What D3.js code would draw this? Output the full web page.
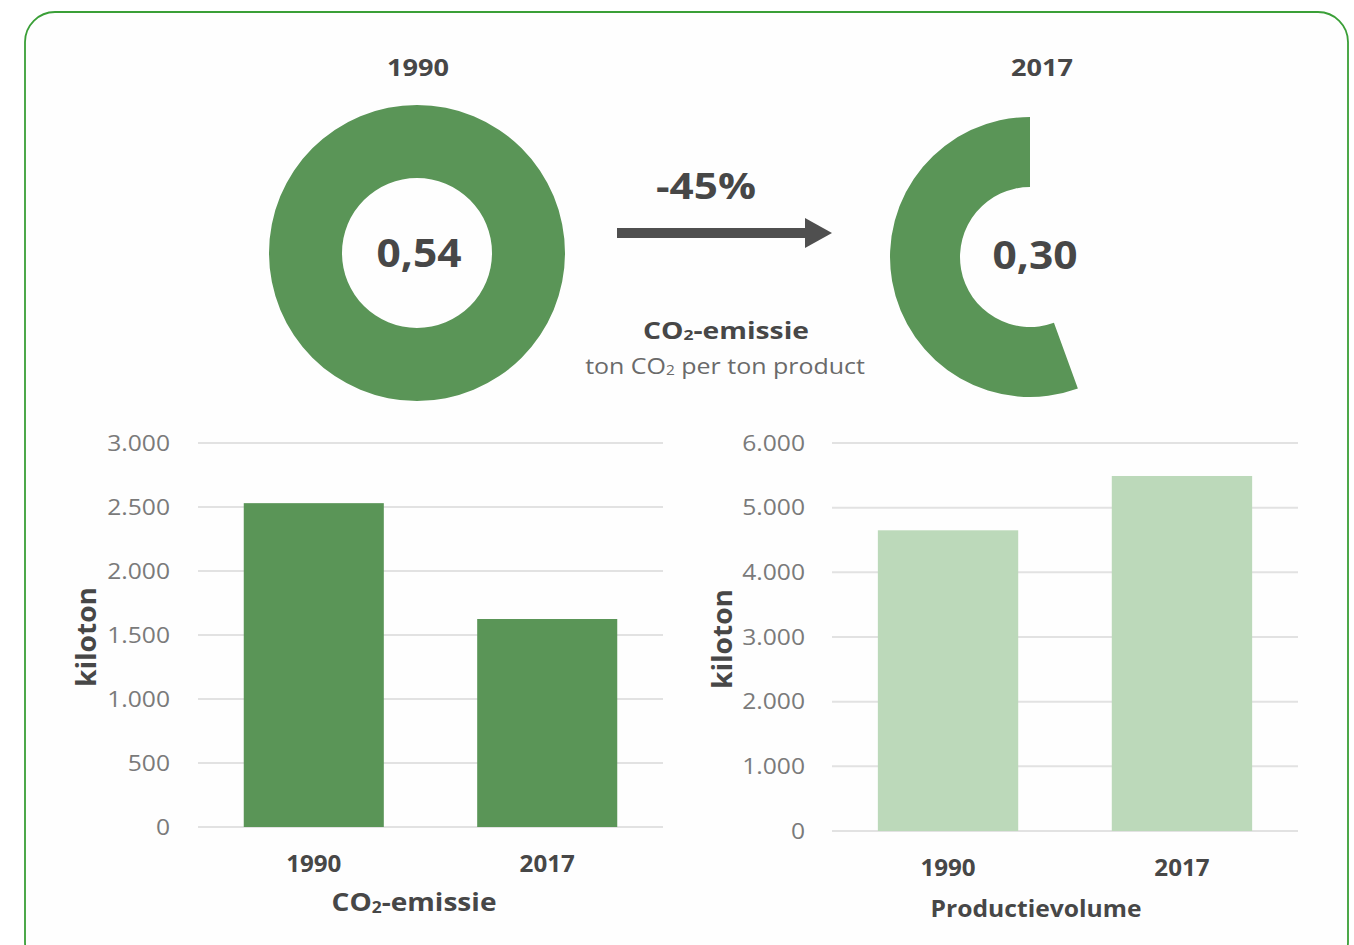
<!DOCTYPE html>
<html>
<head>
<meta charset="utf-8">
<script src="https://cdn.jsdelivr.net/npm/d3@7"></script>
<style>
  html, body { margin: 0; padding: 0; background: #ffffff; }
  svg { display: block; font-family: "Open Sans", "Noto Sans", sans-serif; }
</style>
</head>
<body>
<svg id="chart" width="1354" height="945"></svg>
<script>
// CO2 intensity (ton CO2 per ton product)
const years = ["1990", "2017"];
const intensity = [0.54, 0.30];
const changeLabel = "-45%";

// Absolute emissions and production volume (kiloton)
const emissions = [2530, 1625];
const production = [4650, 5490];
const emissionTicks = [0, 500, 1000, 1500, 2000, 2500, 3000];
const productionTicks = [0, 1000, 2000, 3000, 4000, 5000, 6000];

const nl = d3.formatLocale({ decimal: ",", thousands: ".", grouping: [3], currency: ["€ ", ""] });
const fmtInt = nl.format(",d");
const fmtDec = nl.format(".2f");

const svg = d3.select("#chart");
const dark = "#474747";
const axisGrey = "#7a7a7a";
const greenDark = "#5a9557";
const greenLight = "#bcd9ba";

// Rounded frame
svg.append("rect")
  .attr("x", 25).attr("y", 12)
  .attr("width", 1323).attr("height", 960)
  .attr("rx", 30).attr("ry", 30)
  .attr("fill", "#fefefe")
  .attr("stroke", "#3a9f37").attr("stroke-width", 1.8);

// Wide lettering: text is drawn at the origin and stretched horizontally to a set width
function label(parent, o) {
  const t = parent.append("text")
    .attr("x", 0).attr("y", 0)
    .attr("text-anchor", o.anchor || "middle")
    .attr("font-size", o.size)
    .attr("font-weight", o.weight || 400)
    .attr("fill", o.fill || dark);
  if (o.co2) {
    t.append("tspan").text(o.co2[0]);
    t.append("tspan").attr("font-size", o.size * 0.62).attr("dy", o.size * 0.06).text("2");
    t.append("tspan").attr("dy", -o.size * 0.06).text(o.co2[1]);
  } else {
    t.text(o.text);
  }
  const w = t.node().getComputedTextLength();
  const sx = o.width ? o.width / w : 1;
  t.attr("transform", `translate(${o.x},${o.y}) rotate(${o.rotate || 0}) scale(${sx},1)`);
  return t;
}

// ---- Intensity rings ----
const maxIntensity = d3.max(intensity);
const rings = [
  { cx: 417, cy: 253, r0: 75, r1: 148, tx: 419, ty: 267, lx: 418, size: 40 },
  { cx: 1030, cy: 257, r0: 70, r1: 140, tx: 1035, ty: 269, lx: 1042, size: 39 }
];
intensity.forEach((v, i) => {
  const R = rings[i];
  const share = v / maxIntensity;
  const arc = d3.arc()
    .innerRadius(R.r0).outerRadius(R.r1)
    .startAngle(2 * Math.PI * (1 - share)).endAngle(2 * Math.PI);
  svg.append("path")
    .attr("transform", `translate(${R.cx},${R.cy})`)
    .attr("d", arc()).attr("fill", greenDark);
  label(svg, { x: R.tx, y: R.ty, text: fmtDec(v), size: R.size, weight: 700, width: 85 });
  label(svg, { x: R.lx, y: 75.5, text: years[i], size: 24, weight: 700, width: 62 });
});

// Arrow between the rings
svg.append("rect").attr("x", 617).attr("y", 228).attr("width", 192).attr("height", 10).attr("fill", "#4f4f4f");
svg.append("path").attr("d", "M805,218 L832,233 L805,248 Z").attr("fill", "#4f4f4f");
label(svg, { x: 706, y: 199, text: changeLabel, size: 36, weight: 700, width: 100 });

label(svg, { x: 726, y: 338.5, co2: ["CO", "-emissie"], size: 24, weight: 700, width: 166 });
label(svg, { x: 725, y: 374, co2: ["ton CO", " per ton product"], size: 22, fill: "#6a6a6a", width: 280 });

// ---- Bar charts ----
function barChart(opts) {
  const x = d3.scaleBand().domain(years).range([opts.x0, opts.x1]).paddingInner(0.4).paddingOuter(0.196);
  const y = d3.scaleLinear().domain([0, d3.max(opts.ticks)]).range([opts.yBase, opts.yTop]);
  const g = svg.append("g");

  const yAxis = d3.axisLeft(y).tickValues(opts.ticks).tickFormat(fmtInt).tickSize(0).tickPadding(0);
  const ax = g.append("g").attr("transform", `translate(${opts.labelX},0)`).call(yAxis);
  ax.select(".domain").remove();
  ax.selectAll("text")
    .attr("font-size", 22).attr("fill", axisGrey).attr("font-family", "Open Sans, sans-serif")
    .attr("x", 0).attr("transform", "scale(1.12,1)");

  g.append("g").selectAll("line").data(opts.ticks).join("line")
    .attr("x1", opts.x0).attr("x2", opts.x1)
    .attr("y1", d => y(d)).attr("y2", d => y(d))
    .attr("stroke", "#e2e2e2").attr("stroke-width", 2);

  g.append("g").selectAll("rect").data(opts.values).join("rect")
    .attr("x", (d, i) => x(years[i]))
    .attr("width", x.bandwidth())
    .attr("y", d => y(d))
    .attr("height", d => y(0) - y(d))
    .attr("fill", opts.color);

  const xAxis = d3.axisBottom(x).tickSize(0).tickPadding(0);
  const xa = g.append("g").attr("transform", `translate(0,${opts.yBase + 44.5})`).call(xAxis);
  xa.select(".domain").remove();
  xa.selectAll("text")
    .attr("font-size", 23).attr("font-weight", 700).attr("fill", dark)
    .attr("font-family", "Open Sans, sans-serif").attr("dy", 0).attr("y", 0)
    .attr("transform", "scale(1.05,1)");

  label(g, { x: opts.titleX, y: (opts.yBase + opts.yTop) / 2 + 2, rotate: -90,
             text: "kiloton", size: 26, weight: 700, width: 100 });
  return g;
}

const left = barChart({
  x0: 198, x1: 663, yBase: 827, yTop: 443, labelX: 170, titleX: 96,
  ticks: emissionTicks, values: emissions, color: greenDark
});
label(left, { x: 414, y: 911, co2: ["CO", "-emissie"], size: 25, weight: 700, width: 165 });

const right = barChart({
  x0: 832, x1: 1298, yBase: 831, yTop: 443, labelX: 805, titleX: 732,
  ticks: productionTicks, values: production, color: greenLight
});
label(right, { x: 1036, y: 917, text: "Productievolume", size: 23.5, weight: 700, width: 211 });
</script>
</body>
</html>
